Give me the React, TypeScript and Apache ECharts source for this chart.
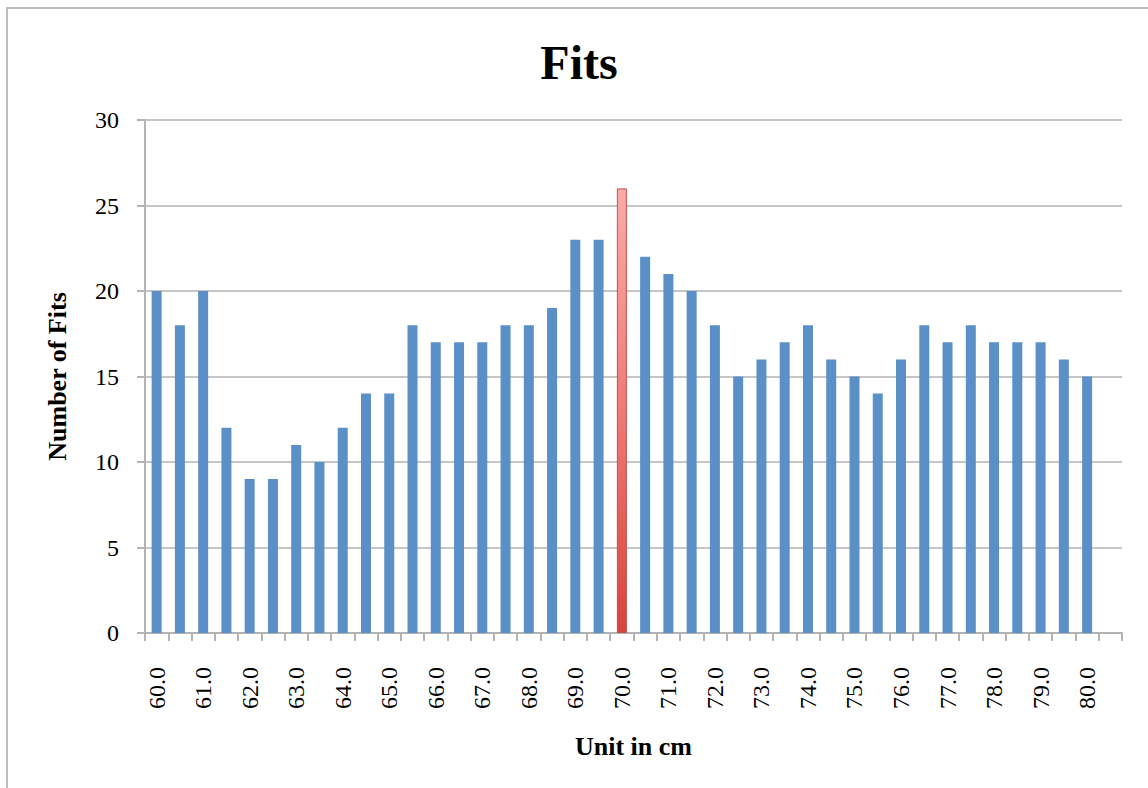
import React, { useEffect, useRef } from "react";
import * as echarts from "echarts";

const categories: string[] = [
  "60.0", "60.5", "61.0", "61.5", "62.0", "62.5", "63.0", "63.5", "64.0", "64.5",
  "65.0", "65.5", "66.0", "66.5", "67.0", "67.5", "68.0", "68.5", "69.0", "69.5",
  "70.0", "70.5", "71.0", "71.5", "72.0", "72.5", "73.0", "73.5", "74.0", "74.5",
  "75.0", "75.5", "76.0", "76.5", "77.0", "77.5", "78.0", "78.5", "79.0", "79.5",
  "80.0", "80.5",
];

const fits: (number | null)[] = [
  20, 18, 20, 12, 9, 9, 11, 10, 12, 14,
  14, 18, 17, 17, 17, 18, 18, 19, 23, 23,
  26, 22, 21, 20, 18, 15, 16, 17, 18, 16,
  15, 14, 16, 18, 17, 18, 17, 17, 17, 16,
  15, null,
];

const highlightCategory = "70.0";
const yTicks = { min: 0, max: 30, interval: 5 };

const FONT = "'Liberation Serif', 'Times New Roman', serif";

export default function App() {
  const ref = useRef<HTMLDivElement>(null);

  useEffect(() => {
    if (!ref.current) return;
    const chart = echarts.init(ref.current, undefined, { renderer: "svg" });

    const data = fits.map((v, i) => {
      if (categories[i] === highlightCategory) {
        return {
          value: v,
          itemStyle: {
            color: new echarts.graphic.LinearGradient(0, 0, 0, 1, [
              { offset: 0, color: "#fbaaa7" },
              { offset: 0.5, color: "#ee7b76" },
              { offset: 1, color: "#d8433d" },
            ]),
            borderColor: "#c0504d",
            borderWidth: 1,
          },
        };
      }
      return { value: v };
    });

    chart.setOption({
      animation: false,
      backgroundColor: "#ffffff",
      title: {
        text: "Fits",
        left: 574,
        top: 33,
        textAlign: "center",
        textStyle: {
          fontFamily: FONT,
          fontSize: 48,
          fontWeight: "bold",
          color: "#000000",
        },
      },
      graphic: [
        {
          type: "rect",
          shape: { x: 7, y: 8, width: 1160, height: 800 },
          style: { fill: "none", stroke: "#bdbdbd", lineWidth: 2 },
          silent: true,
        },
      ],
      grid: { left: 145, right: 26, top: 120, bottom: 155 },
      xAxis: {
        type: "category",
        data: categories,
        name: "Unit in cm",
        nameLocation: "middle",
        nameGap: 100,
        nameTextStyle: {
          fontFamily: FONT,
          fontSize: 26,
          fontWeight: "bold",
          color: "#000000",
        },
        axisLine: { lineStyle: { color: "#b3b3b3", width: 2 } },
        axisTick: {
          show: true,
          interval: 0,
          length: 8,
          alignWithLabel: false,
          lineStyle: { color: "#b3b3b3", width: 2 },
        },
        axisLabel: {
          interval: 1,
          rotate: 90,
          margin: 34,
          fontFamily: FONT,
          fontSize: 24,
          color: "#000000",
        },
        splitLine: { show: false },
      },
      yAxis: {
        type: "value",
        min: yTicks.min,
        max: yTicks.max,
        interval: yTicks.interval,
        name: "Number of Fits",
        nameLocation: "middle",
        nameGap: 75,
        nameTextStyle: {
          fontFamily: FONT,
          fontSize: 26,
          fontWeight: "bold",
          color: "#000000",
        },
        axisLine: { show: true, lineStyle: { color: "#b3b3b3", width: 2 } },
        axisTick: {
          show: true,
          length: 8,
          lineStyle: { color: "#b3b3b3", width: 2 },
        },
        axisLabel: {
          margin: 26,
          fontFamily: FONT,
          fontSize: 24,
          color: "#000000",
        },
        splitLine: { show: true, lineStyle: { color: "#b3b3b3", width: 1.5 } },
      },
      series: [
        {
          type: "bar",
          data,
          barWidth: 10,
          itemStyle: { color: "#5b8fc7" },
        },
      ],
    });

    return () => chart.dispose();
  }, []);

  return (
    <div
      ref={ref}
      style={{ position: "fixed", left: 0, top: 0, width: 1148, height: 788 }}
    />
  );
}
